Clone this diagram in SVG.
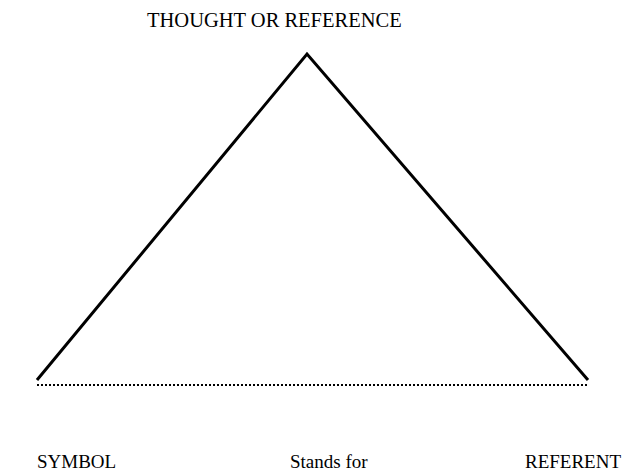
<svg xmlns="http://www.w3.org/2000/svg" width="629" height="475" viewBox="0 0 629 475">
<style>
.lbl{font-family:"Liberation Serif","Times New Roman",serif;font-size:19px;fill:#000}
.top{font-size:20.5px}
.side{stroke:#000;stroke-width:3;fill:none}
.dot{stroke:#000;stroke-width:2;stroke-dasharray:2 2;fill:none}
</style>
<rect width="629" height="475" fill="#fff"/>
<g id="connectors">
<path class="side" d="M37,380 L307,54 L588,380"/>
<line class="dot" x1="37" y1="385" x2="589" y2="385"/>
</g>
<g id="thought"><text class="lbl top" x="147" y="27">THOUGHT OR REFERENCE</text></g>
<g id="symbol"><text class="lbl" x="37" y="468">SYMBOL</text></g>
<g id="standsfor"><text class="lbl" x="290" y="468">Stands for</text></g>
<g id="referent"><text class="lbl" x="525" y="468">REFERENT</text></g>
</svg>
